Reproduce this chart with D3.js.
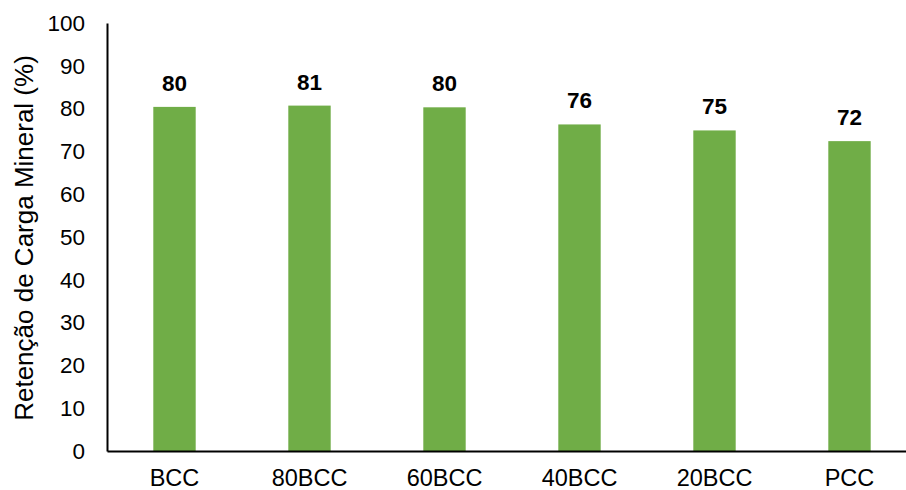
<!DOCTYPE html>
<html>
<head>
<meta charset="utf-8">
<script src="https://cdn.jsdelivr.net/npm/d3@7"></script>
<style>
  html, body { margin: 0; padding: 0; background: #fff; }
  svg { display: block; font-family: "Liberation Sans", Arial, sans-serif; }
</style>
</head>
<body>
<svg id="chart" width="906" height="490"></svg>
<script>
// Mineral filler retention per formulation
const categories = ["BCC", "80BCC", "60BCC", "40BCC", "20BCC", "PCC"];
const retention = [80.4, 80.7, 80.3, 76.3, 74.9, 72.4];
const yTicks = [0, 10, 20, 30, 40, 50, 60, 70, 80, 90, 100];
const yTitle = "Retenção de Carga Mineral (%)";

const svg = d3.select("#chart");
const margin = { left: 107, top: 23, bottom: 39 };
const plotRight = 917;
const height = 490;

const x = d3.scaleBand()
  .domain(categories)
  .range([margin.left, plotRight])
  .paddingInner(0.686)
  .paddingOuter(0.343);

const y = d3.scaleLinear()
  .domain([0, 100])
  .range([height - margin.bottom, margin.top]);

// bars
svg.append("g")
  .selectAll("rect")
  .data(categories)
  .join("rect")
  .attr("x", d => x(d))
  .attr("width", x.bandwidth())
  .attr("y", (d, i) => y(retention[i]))
  .attr("height", (d, i) => y(0) - y(retention[i]))
  .attr("fill", "#70ad47");

// value labels
svg.append("g")
  .selectAll("text")
  .data(categories)
  .join("text")
  .attr("x", d => x(d) + x.bandwidth() / 2)
  .attr("y", (d, i) => y(retention[i]) - 16)
  .attr("text-anchor", "middle")
  .attr("font-size", 22.5)
  .attr("font-weight", "bold")
  .attr("fill", "#000")
  .text((d, i) => d3.format(".0f")(retention[i]));

// y axis
const yAxis = svg.append("g")
  .attr("transform", `translate(${margin.left},0)`)
  .call(d3.axisLeft(y).tickValues(yTicks).tickSize(0).tickPadding(22));
yAxis.select(".domain").attr("stroke", "#000").attr("stroke-width", 2);
yAxis.selectAll("text")
  .attr("font-size", 22.5)
  .attr("font-family", "Liberation Sans, Arial, sans-serif")
  .attr("fill", "#000");

// x axis
const xAxis = svg.append("g")
  .attr("transform", `translate(0,${y(0)})`)
  .call(d3.axisBottom(x).tickSize(0).tickPadding(18));
xAxis.select(".domain").attr("stroke", "#000").attr("stroke-width", 2);
xAxis.selectAll("text")
  .attr("font-size", 23.5)
  .attr("font-family", "Liberation Sans, Arial, sans-serif")
  .attr("fill", "#000");

// y axis title
svg.append("text")
  .attr("transform", `translate(33,238) rotate(-90)`)
  .attr("text-anchor", "middle")
  .attr("font-size", 26)
  .attr("fill", "#000")
  .text(yTitle);
</script>
</body>
</html>
